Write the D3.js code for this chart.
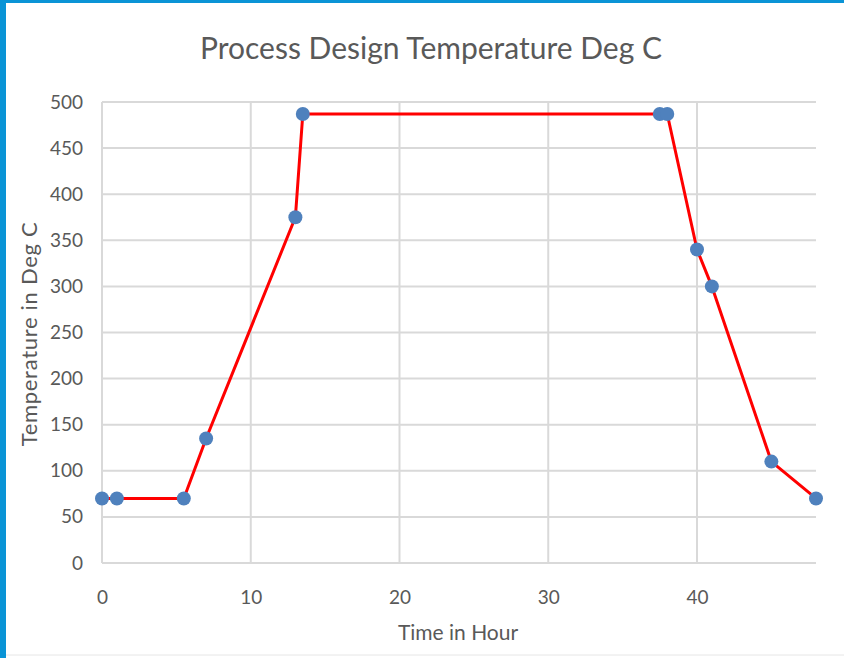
<!DOCTYPE html>
<html>
<head>
<meta charset="utf-8">
<script src="https://cdn.jsdelivr.net/npm/d3@7"></script>
<style>
  html, body { margin: 0; padding: 0; background: #fff; }
  svg { display: block; }
</style>
</head>
<body>
<div id="chart"></div>
<script>
// time (hours) and design temperature (deg C)
var hours = [0, 1, 5.5, 7, 13, 13.5, 37.5, 38, 40, 41, 45, 48];
var temps = [70, 70, 70, 135, 375, 487, 487, 487, 340, 300, 110, 70];
var xTicks = [0, 10, 20, 30, 40];
var yTicks = [0, 50, 100, 150, 200, 250, 300, 350, 400, 450, 500];

var W = 844, H = 658;
var fontFam = 'Lato, "Open Sans", sans-serif';

var svg = d3.select('#chart').append('svg')
  .attr('width', W)
  .attr('height', H);

// frame: blue edges + faint bottom line
svg.append('rect').attr('x', 0).attr('y', 0).attr('width', W).attr('height', H).style('fill', '#fff');
svg.append('rect').attr('x', 0).attr('y', 0).attr('width', W).attr('height', 3).style('fill', '#0a94d6');
svg.append('rect').attr('x', 0).attr('y', 0).attr('width', 6).attr('height', H).style('fill', '#0a94d6');
svg.append('line').attr('x1', 6).attr('x2', W).attr('y1', 655).attr('y2', 655)
  .style('stroke', '#e6e6e6').style('stroke-width', 1);

var x = d3.scaleLinear().domain([0, 48]).range([102, 816]);
var y = d3.scaleLinear().domain([0, 500]).range([563, 102]);

// horizontal gridlines
svg.append('g').selectAll('line').data(yTicks).enter().append('line')
  .attr('x1', x(0)).attr('x2', x(48))
  .attr('y1', function(d) { return y(d); })
  .attr('y2', function(d) { return y(d); })
  .style('stroke', '#d9d9d9').style('stroke-width', 2);

// vertical gridlines
svg.append('g').selectAll('line').data(xTicks).enter().append('line')
  .attr('x1', function(d) { return x(d); })
  .attr('x2', function(d) { return x(d); })
  .attr('y1', y(0)).attr('y2', y(500))
  .style('stroke', '#d9d9d9').style('stroke-width', 2);

// y tick labels
var yAxis = svg.append('g')
  .attr('transform', 'translate(' + 83 + ',0)')
  .call(d3.axisLeft(y).tickValues(yTicks).tickSize(0).tickPadding(0));
yAxis.select('.domain').remove();
yAxis.selectAll('text')
  .style('font-family', fontFam).style('font-size', '19px').style('fill', '#595959');

// x tick labels
var xAxis = svg.append('g')
  .attr('transform', 'translate(0,' + 590 + ')')
  .call(d3.axisBottom(x).tickValues(xTicks).tickSize(0).tickPadding(0));
xAxis.select('.domain').remove();
xAxis.selectAll('text')
  .style('font-family', fontFam).style('font-size', '19px').style('fill', '#595959');

// title + axis titles
svg.append('text')
  .attr('x', 431).attr('y', 59)
  .attr('text-anchor', 'middle')
  .style('font-family', fontFam).style('font-size', '30px').style('fill', '#595959')
  .text('Process Design Temperature Deg C');

svg.append('text')
  .attr('x', 458).attr('y', 640)
  .attr('text-anchor', 'middle')
  .style('font-family', fontFam).style('font-size', '21px').style('fill', '#595959')
  .text('Time in Hour');

svg.append('text')
  .attr('transform', 'translate(37,334) rotate(-90)')
  .attr('text-anchor', 'middle')
  .style('font-family', fontFam).style('font-size', '22px').style('fill', '#595959')
  .style('letter-spacing', '0.7px')
  .text('Temperature in Deg C');

// series
var pts = hours.map(function(h, i) { return [h, temps[i]]; });

var line = d3.line()
  .x(function(d) { return x(d[0]); })
  .y(function(d) { return y(d[1]); });

svg.append('path')
  .datum(pts)
  .attr('d', line)
  .style('fill', 'none')
  .style('stroke', '#ff0000')
  .style('stroke-width', 3)
  .style('stroke-linejoin', 'round');

svg.append('g').selectAll('circle').data(pts).enter().append('circle')
  .attr('cx', function(d) { return x(d[0]); })
  .attr('cy', function(d) { return y(d[1]); })
  .attr('r', 7)
  .style('fill', '#4f81bd');
</script>
</body>
</html>
